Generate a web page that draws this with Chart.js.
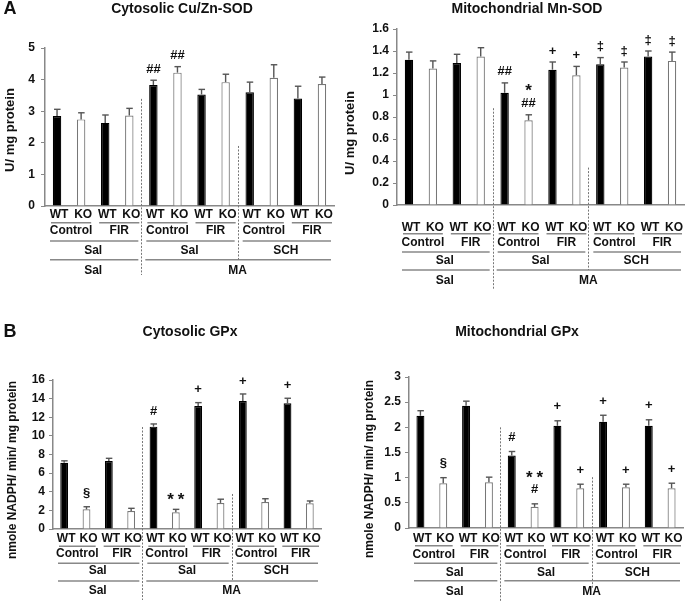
<!DOCTYPE html>
<html>
<head>
<meta charset="utf-8">
<script src="https://cdn.jsdelivr.net/npm/chart.js@4.4.1/dist/chart.umd.min.js"></script>
<style>
  body { margin: 0; background: #fff; }
  #wrap { position: relative; width: 685px; height: 605px; overflow: hidden; }
  canvas { position: absolute; }
</style>
</head>
<body>
<div id="wrap">
  <canvas id="cuznChart" width="340" height="305" style="left:0;top:0"></canvas>
  <canvas id="mnChart" width="345" height="305" style="left:340px;top:0"></canvas>
  <canvas id="cytoChart" width="340" height="300" style="left:0;top:305px"></canvas>
  <canvas id="mitoChart" width="345" height="300" style="left:340px;top:305px"></canvas>
</div>
<script>
const FONT = "Arial, 'Liberation Sans', sans-serif";

// x axis groups
const genotypes = ["WT", "KO", "WT", "KO", "WT", "KO", "WT", "KO", "WT", "KO", "WT", "KO"];
const treatments = ["Control", "FIR", "Control", "FIR", "Control", "FIR"];
const pretreatments = ["Sal", "Sal", "SCH"];
const drugs = ["Sal", "MA"];

// Cytosolic Cu/Zn-SOD (U/ mg protein)
const cuznSod = [2.85, 2.74, 2.63, 2.86, 3.83, 4.22, 3.53, 3.92, 3.60, 4.06, 3.40, 3.86];
const cuznSodSem = [0.21, 0.21, 0.25, 0.23, 0.15, 0.19, 0.16, 0.25, 0.32, 0.41, 0.39, 0.22];
const cuznSodMarks = ["", "", "", "", "##", "##", "", "", "", "", "", ""];

// Mitochondrial Mn-SOD (U/ mg protein)
const mnSod = [1.32, 1.24, 1.29, 1.35, 1.02, 0.77, 1.23, 1.18, 1.28, 1.25, 1.35, 1.31];
const mnSodSem = [0.07, 0.07, 0.08, 0.08, 0.09, 0.05, 0.07, 0.08, 0.06, 0.05, 0.05, 0.08];
const mnSodMarks = ["", "", "", "", "##", "*\n##", "+", "+", "\u2021", "\u2021", "\u2021", "\u2021"];

// Cytosolic GPx (nmole NADPH/ min/ mg protein)
const cytoGpx = [7.12, 2.11, 7.30, 1.93, 10.99, 1.79, 13.21, 2.80, 13.75, 2.90, 13.50, 2.76];
const cytoGpxSem = [0.20, 0.28, 0.29, 0.29, 0.29, 0.32, 0.36, 0.40, 0.75, 0.35, 0.54, 0.25];
const cytoGpxMarks = ["", "\u00a7", "", "", "#", "**", "+", "", "+", "", "+", ""];

// Mitochondrial GPx (nmole NADPH/ min/ mg protein)
const mitoGpx = [2.23, 0.89, 2.43, 0.91, 1.44, 0.42, 2.03, 0.79, 2.11, 0.81, 2.03, 0.79];
const mitoGpxSem = [0.10, 0.11, 0.09, 0.10, 0.08, 0.06, 0.10, 0.08, 0.13, 0.06, 0.12, 0.10];
const mitoGpxMarks = ["", "\u00a7", "", "", "#", "**\n#", "+", "+", "+", "+", "+", "+"];

function drawLine(ctx, x1, y1, x2, y2) {
  ctx.beginPath();
  ctx.moveTo(x1, y1);
  ctx.lineTo(x2, y2);
  ctx.stroke();
}

// asterisks are drawn bigger and spread out, like the original figure
function drawMark(ctx, text, cx, cy) {
  if (text.includes("*")) {
    ctx.font = "bold 17px " + FONT;
    const gap = 10.5;
    const start = cx - (gap * (text.length - 1)) / 2;
    for (let i = 0; i < text.length; i++) {
      ctx.fillText(text[i], start + i * gap, cy + 4);
    }
  } else {
    ctx.font = "bold 13px " + FONT;
    ctx.fillText(text, cx, cy);
  }
}

const figurePlugin = {
  id: "figure",
  afterDatasetsDraw(chart, args, opts) {
    const ctx = chart.ctx;
    const x = chart.scales.x;
    const y = chart.scales.y;
    const values = chart.data.datasets[0].data;

    ctx.save();
    ctx.strokeStyle = "#555";
    ctx.lineWidth = 1.4;
    values.forEach((v, i) => {
      const cx = x.getPixelForValue(i);
      const errTop = y.getPixelForValue(v + opts.sem[i]);
      drawLine(ctx, cx, y.getPixelForValue(v), cx, errTop);
      drawLine(ctx, cx - 3, errTop, cx + 3.5, errTop);
    });

    ctx.fillStyle = "#111";
    ctx.textAlign = "center";
    ctx.textBaseline = "middle";
    opts.marks.forEach((m, i) => {
      if (!m) return;
      const errTop = y.getPixelForValue(values[i] + opts.sem[i]);
      m.split("\n").reverse().forEach((line, k) => {
        drawMark(ctx, line, x.getPixelForValue(i), errTop - opts.markGap - k * 16);
      });
    });
    ctx.restore();
  },
  afterDraw(chart, args, opts) {
    const ctx = chart.ctx;
    const x = chart.scales.x;
    const y = chart.scales.y;
    const step = x.getPixelForValue(1) - x.getPixelForValue(0);
    const edge = i => x.getPixelForValue(i) - step / 2;
    const mid = (a, b) => (x.getPixelForValue(a) + x.getPixelForValue(b)) / 2;
    const base = chart.chartArea.bottom;
    const r = opts.rows;

    ctx.save();
    ctx.fillStyle = "#111";
    ctx.textAlign = "center";
    ctx.textBaseline = "middle";

    // panel letter and title
    if (opts.letter) {
      ctx.font = "bold 18px " + FONT;
      ctx.fillText(opts.letter, 10, opts.titleY);
    }
    ctx.font = "bold 14px " + FONT;
    ctx.fillText(opts.title, opts.titleX, opts.titleY);

    // y title
    ctx.save();
    ctx.font = "bold " + opts.yTitleSize + "px " + FONT;
    ctx.translate(opts.yTitleX, opts.yTitleY);
    ctx.rotate(-Math.PI / 2);
    ctx.fillText(opts.yTitle, 0, 0);
    ctx.restore();

    // grouping rows
    ctx.font = "bold 12px " + FONT;
    genotypes.forEach((g, i) => ctx.fillText(g, x.getPixelForValue(i) + 2, base + r[0]));
    treatments.forEach((t, p) => ctx.fillText(t, mid(2 * p, 2 * p + 1) + 2, base + r[2]));
    pretreatments.forEach((t, q) => ctx.fillText(t, mid(4 * q, 4 * q + 3), base + r[4]));
    ctx.fillText(drugs[0], mid(0, 3), base + r[6]);
    ctx.fillText(drugs[1], mid(4, 11), base + r[6]);

    ctx.strokeStyle = "#888";
    ctx.lineWidth = 1.5;
    for (let p = 0; p < 6; p++) {
      drawLine(ctx, edge(2 * p) + 6, base + r[1], edge(2 * p + 2) - 2, base + r[1]);
    }
    for (let q = 0; q < 3; q++) {
      drawLine(ctx, edge(4 * q) + 5, base + r[3], edge(4 * q + 4) - 3, base + r[3]);
    }
    drawLine(ctx, edge(0) + 5, base + r[5], edge(4) - 3, base + r[5]);
    drawLine(ctx, edge(4) + 4, base + r[5], edge(12) - 3, base + r[5]);

    // dotted separators
    ctx.strokeStyle = "#777";
    ctx.lineWidth = 1;
    ctx.setLineDash([2, 1.5]);
    opts.separators.forEach(s => {
      const sx = Math.round(edge(s.at)) + 0.5;
      drawLine(ctx, sx, y.getPixelForValue(s.top), sx, base + s.bottom);
    });
    ctx.restore();
  }
};

function buildChart(id, values, sem, marks, layout) {
  const ctx = document.getElementById(id).getContext("2d");

  return new Chart(ctx, {
    type: "bar",
    data: {
      labels: genotypes,
      datasets: [
        {
          data: values,
          backgroundColor: genotypes.map(g => (g === "WT" ? "#000" : "#fff")),
          borderColor: genotypes.map(g => (g === "WT" ? "#000" : "#777")),
          borderWidth: 1.2,
          barPercentage: 0.35,
          categoryPercentage: 1
        }
      ]
    },
    options: {
      responsive: false,
      animation: false,
      events: [],
      layout: {
        padding: { top: layout.area.top, right: layout.width - layout.area.right, left: 0, bottom: 0 }
      },
      plugins: {
        legend: { display: false },
        tooltip: { enabled: false },
        figure: {
          sem: sem,
          marks: marks,
          markGap: layout.markGap,
          letter: layout.letter,
          title: layout.title,
          titleX: layout.titleX,
          titleY: layout.titleY,
          yTitle: layout.yTitle,
          yTitleX: layout.yTitleX,
          yTitleY: layout.yTitleY,
          yTitleSize: layout.yTitleSize,
          rows: layout.rows,
          separators: layout.separators
        }
      },
      scales: {
        x: {
          ticks: { display: false },
          grid: { display: false },
          border: { color: "#888", width: 1.5 },
          afterFit: scale => {
            scale.height = layout.height - layout.area.bottom;
          }
        },
        y: {
          min: 0,
          max: layout.yMax,
          ticks: {
            stepSize: layout.yStep,
            color: "#111",
            padding: layout.tickPad,
            font: { family: FONT, size: 12, weight: "bold" },
            callback: v => String(Number(v.toFixed(2)))
          },
          grid: { drawOnChartArea: false, drawTicks: true, tickLength: 4, color: "#888" },
          border: { color: "#888", width: 1.5 },
          afterFit: scale => {
            scale.width = layout.area.left;
          }
        }
      }
    },
    plugins: [figurePlugin]
  });
}

buildChart("cuznChart", cuznSod, cuznSodSem, cuznSodMarks, {
  width: 340, height: 305,
  area: { left: 45, right: 334, top: 48, bottom: 206 },
  yMax: 5, yStep: 1, tickPad: 6, markGap: 11,
  letter: "A", title: "Cytosolic Cu/Zn-SOD", titleX: 182, titleY: 9,
  yTitle: "U/ mg protein", yTitleX: 10, yTitleY: 130, yTitleSize: 13,
  rows: [9, 16.7, 25, 35, 45, 53.7, 65],
  separators: [{ at: 4, top: 3.39, bottom: 69 }, { at: 8, top: 1.9, bottom: 53.7 }]
});

buildChart("mnChart", mnSod, mnSodSem, mnSodMarks, {
  width: 345, height: 305,
  area: { left: 57, right: 344, top: 29, bottom: 205 },
  yMax: 1.6, yStep: 0.2, tickPad: 4, markGap: 11,
  letter: "", title: "Mitochondrial Mn-SOD", titleX: 187, titleY: 9,
  yTitle: "U/ mg protein", yTitleX: 10, yTitleY: 133, yTitleSize: 13,
  rows: [22.5, 28.7, 38, 47, 56, 65, 75.5],
  separators: [{ at: 4, top: 0.88, bottom: 85 }, { at: 8, top: 0.34, bottom: 65 }]
});

buildChart("cytoChart", cytoGpx, cytoGpxSem, cytoGpxMarks, {
  width: 340, height: 300,
  area: { left: 53, right: 321, top: 75, bottom: 224 },
  yMax: 16, yStep: 2, tickPad: 4, markGap: 13,
  letter: "B", title: "Cytosolic GPx", titleX: 190, titleY: 27,
  yTitle: "nmole NADPH/ min/ mg protein", yTitleX: 13, yTitleY: 165, yTitleSize: 12,
  rows: [10, 17.3, 25, 34.3, 42, 52, 61.5],
  separators: [{ at: 4, top: 10.95, bottom: 71 }, { at: 8, top: 3.76, bottom: 52 }]
});

buildChart("mitoChart", mitoGpx, mitoGpxSem, mitoGpxMarks, {
  width: 345, height: 300,
  area: { left: 69, right: 343, top: 72, bottom: 223 },
  yMax: 3, yStep: 0.5, tickPad: 4, markGap: 14,
  letter: "", title: "Mitochondrial GPx", titleX: 177, titleY: 27,
  yTitle: "nmole NADPH/ min/ mg protein", yTitleX: 30, yTitleY: 164, yTitleSize: 12,
  rows: [11, 17.7, 27, 35.3, 44.5, 52.7, 64],
  separators: [{ at: 4, top: 2.0, bottom: 74 }, { at: 8, top: 1.01, bottom: 60 }]
});
</script>
</body>
</html>
